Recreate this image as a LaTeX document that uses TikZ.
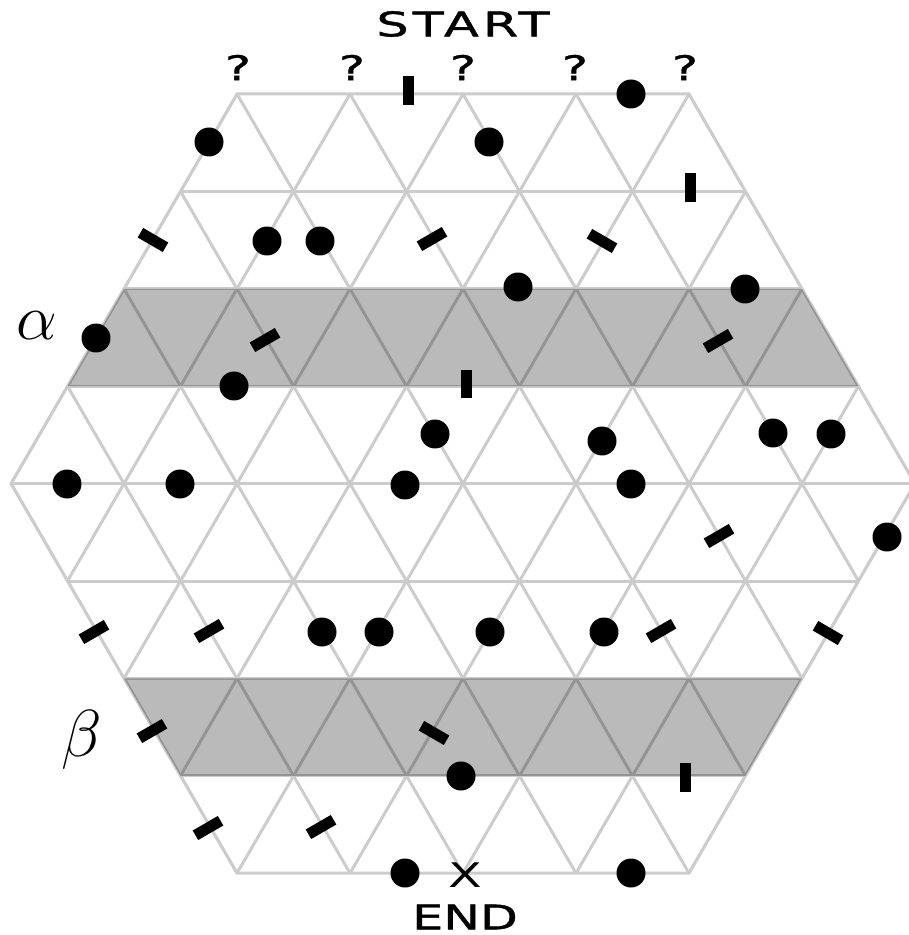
\documentclass[tikz,border=0pt]{standalone}
\usepackage{fontspec}
\newfontfamily\boardfont[FakeStretch=1.45,FakeBold=1.2]{DejaVu Sans}
\newfontfamily\startfont[FakeStretch=1.5,FakeBold=1.2,LetterSpace=12]{DejaVu Sans}
\newfontfamily\crossfont[FakeStretch=1.45]{DejaVu Sans}

\begin{document}
\begin{tikzpicture}[
  x=0.02cm,y=-0.02cm,
  gridline/.style={draw=gray!40,line width=0.06cm},
  band/.style={fill=black,opacity=0.27},
  stone/.style={circle,fill=black,inner sep=0pt,minimum size=0.58cm},
  wall/.style={rectangle,fill=black,inner sep=0pt,minimum width=0.22cm,minimum height=0.58cm},
  wallrise/.style={wall,rotate=-60},
  wallfall/.style={wall,rotate=60},
  boardtext/.style={font=\boardfont\fontsize{19.3}{22}\selectfont,inner sep=0pt},
  greek/.style={font=\fontsize{24.88}{26}\selectfont,inner sep=0pt}
]
\useasboundingbox (0,0) rectangle (908,935);

% Dreiecksgitter im Sechseck
\begin{scope}
  \clip (237,94) -- (689,94) -- (915,483.6) -- (689,873.2) -- (237,873.2) -- (11,483.6) -- cycle;
  \foreach \r in {0,...,8}
    \draw[gridline] (0,94+97.4*\r) -- (930,94+97.4*\r);
  \foreach \c in {-16,-14,...,16} {
    \draw[gridline] (463+56.5*\c-113,94-194.8) -- (463+56.5*\c+565,94+974);
    \draw[gridline] (463+56.5*\c+113,94-194.8) -- (463+56.5*\c-565,94+974);
  }
\end{scope}
\draw[gridline] (237,94) -- (689,94) -- (915,483.6) -- (689,873.2) -- (237,873.2) -- (11,483.6) -- cycle;

% graue Streifen alpha und beta
\fill[band] (124,288.8) -- (802,288.8) -- (858.5,386.2) -- (67.5,386.2) -- cycle;
\fill[band] (124,678.4) -- (802,678.4) -- (745.5,775.8) -- (180.5,775.8) -- cycle;

% Beschriftung
\node[boardtext,font=\startfont\fontsize{19.3}{22}\selectfont] (start) at (463,24) {START};
\node[boardtext] (q1) at (238,67.5) {?};
\node[boardtext] (q2) at (352,67.5) {?};
\node[boardtext] (q3) at (463,67.5) {?};
\node[boardtext] (q4) at (575,67.5) {?};
\node[boardtext] (q5) at (685,67.5) {?};
\node[boardtext,font=\crossfont\fontsize{19.3}{22}\selectfont] (cross) at (465,875.5) {X};
\node[boardtext] (end) at (465,917) {END};
\node[greek] (alpha) at (37,326) {\scalebox{1.48}{$\alpha$}};
\node[greek] (beta) at (82,740) {\scalebox{1.52}{$\beta$}};

% Steine
\node[stone] (s1) at (631,94) {};
\node[stone] (s2) at (209,142) {};
\node[stone] (s3) at (489,142) {};
\node[stone] (s4) at (267,241) {};
\node[stone] (s5) at (320,241) {};
\node[stone] (s6) at (518,287) {};
\node[stone] (s7) at (745,289) {};
\node[stone] (s8) at (96,338) {};
\node[stone] (s9) at (234,386) {};
\node[stone] (s10) at (435,434) {};
\node[stone] (s11) at (602,441) {};
\node[stone] (s12) at (773,433) {};
\node[stone] (s13) at (831,434) {};
\node[stone] (s14) at (67,484) {};
\node[stone] (s15) at (180,484) {};
\node[stone] (s16) at (405,485) {};
\node[stone] (s17) at (631,484) {};
\node[stone] (s18) at (887,537) {};
\node[stone] (s19) at (322,632) {};
\node[stone] (s20) at (379,632) {};
\node[stone] (s21) at (490,632) {};
\node[stone] (s22) at (604,632) {};
\node[stone] (s23) at (461,776) {};
\node[stone] (s24) at (405,873) {};
\node[stone] (s25) at (631,873) {};

% Wände
\node[wall] (w1) at (408,91) {};
\node[wall] (w2) at (690,188) {};
\node[wallfall] (w3) at (153,240) {};
\node[wallrise] (w4) at (432,239) {};
\node[wallfall] (w5) at (602,241) {};
\node[wallrise] (w6) at (265,340) {};
\node[wallrise] (w7) at (718,341) {};
\node[wall] (w8) at (466,384) {};
\node[wallrise] (w9) at (719,536) {};
\node[wallrise] (w10) at (94,632) {};
\node[wallrise] (w11) at (209,631) {};
\node[wallrise] (w12) at (661,631) {};
\node[wallfall] (w13) at (828,633) {};
\node[wallrise] (w14) at (152,731) {};
\node[wallfall] (w15) at (434,733) {};
\node[wall] (w16) at (685,777) {};
\node[wallrise] (w17) at (208,828) {};
\node[wallrise] (w18) at (321,827) {};

\end{tikzpicture}
\end{document}
